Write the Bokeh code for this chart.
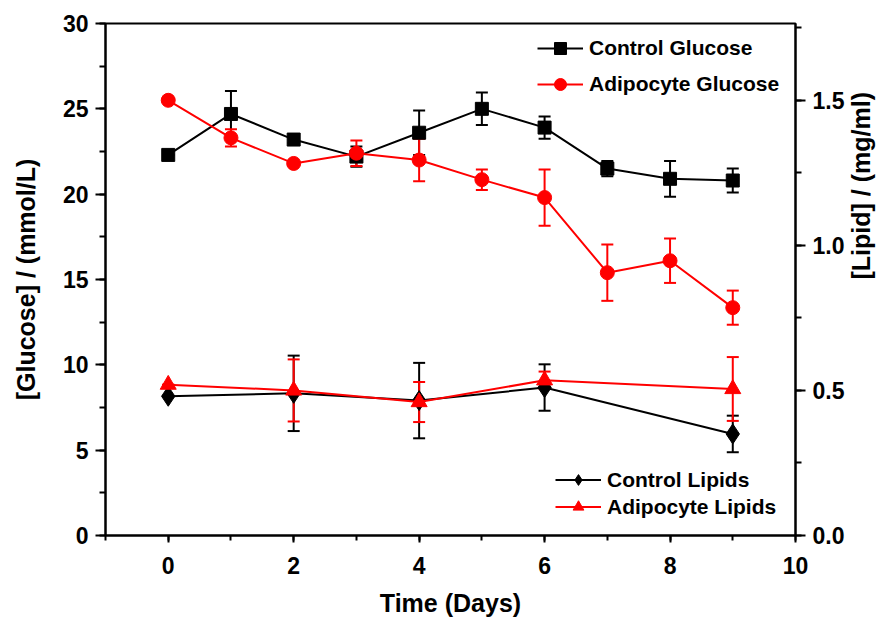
import math
from bokeh.plotting import figure
from bokeh.models import (ColumnDataSource, Whisker, TeeHead, LinearAxis, Range1d,
                          Legend, LegendItem, SingleIntervalTicker, NumeralTickFormatter)
from bokeh.embed import file_html
from bokeh.resources import INLINE

# ---------------- data ----------------
days = [0, 1, 2, 3, 4, 5, 6, 7, 8, 9]
control_glucose = [22.3, 24.7, 23.2, 22.2, 23.6, 25.0, 23.9, 21.5, 20.9, 20.8]
control_glucose_err = [0.0, 1.35, 0.2, 0.6, 1.3, 0.95, 0.65, 0.45, 1.05, 0.7]
adipocyte_glucose = [25.5, 23.3, 21.8, 22.4, 22.0, 20.85, 19.8, 15.4, 16.1, 13.35]
adipocyte_glucose_err = [0.0, 0.5, 0.1, 0.75, 1.25, 0.6, 1.65, 1.65, 1.3, 1.0]

lipid_days = [0, 2, 4, 6, 9]
control_lipids = [0.48, 0.49, 0.465, 0.51, 0.35]
control_lipids_err = [0.0, 0.13, 0.13, 0.08, 0.063]
adipocyte_lipids = [0.52, 0.50, 0.46, 0.535, 0.505]
adipocyte_lipids_err = [0.0, 0.107, 0.069, 0.03, 0.11]

glucose_range = (0, 30)
lipid_range = (0, 30 / 17)

FONT = "Liberation Sans"
RED = "#ff0000"
BLACK = "#000000"


def src(x, y, e):
    return ColumnDataSource(dict(x=x, y=y,
                                 upper=[a + b for a, b in zip(y, e)],
                                 lower=[a - b for a, b in zip(y, e)]))


p = figure(width=892, height=622, output_backend="svg", toolbar_location=None,
           x_range=Range1d(-1, 10), y_range=Range1d(*glucose_range),
           min_border_left=105, min_border_right=97, min_border_top=23, min_border_bottom=87)
p.extra_y_ranges = {"lipid": Range1d(*lipid_range)}
p.xgrid.visible = False
p.ygrid.visible = False
p.outline_line_color = "black"
p.outline_line_width = 2
p.background_fill_color = "white"
p.border_fill_color = "white"

right_axis = LinearAxis(y_range_name="lipid", axis_label="[Lipid] / (mg/ml)")
p.add_layout(right_axis, "right")

p.xaxis.axis_label = "Time (Days)"
p.yaxis[0].axis_label = "[Glucose] / (mmol/L)"
p.xaxis.ticker = SingleIntervalTicker(interval=2, num_minor_ticks=2)
p.yaxis[0].ticker = SingleIntervalTicker(interval=5, num_minor_ticks=2)
right_axis.ticker = SingleIntervalTicker(interval=0.5, num_minor_ticks=2)
right_axis.formatter = NumeralTickFormatter(format="0.0")

for ax in [p.xaxis[0], p.yaxis[0], right_axis]:
    ax.axis_line_width = 2
    ax.major_tick_line_width = 2
    ax.minor_tick_line_width = 2
    ax.major_tick_out = 10
    ax.major_tick_in = 0
    ax.minor_tick_out = 6
    ax.minor_tick_in = 0
    ax.major_label_text_font = FONT
    ax.major_label_text_font_style = "bold"
    ax.major_label_text_font_size = "23px"
    ax.major_label_text_color = "black"
    ax.axis_label_text_font = FONT
    ax.axis_label_text_font_style = "bold"
    ax.axis_label_text_font_size = "25px"
    ax.axis_label_text_color = "black"
    ax.major_label_standoff = 7

p.xaxis.major_tick_out = 7
p.xaxis.minor_tick_out = 5
p.xaxis.major_label_standoff = 14
p.xaxis.axis_label_standoff = 12
p.yaxis[0].axis_label_standoff = 20
right_axis.axis_label_standoff = 14
right_axis.axis_label_orientation = math.pi / 2

# Control glucose
s = src(days, control_glucose, control_glucose_err)
p.add_layout(Whisker(source=s, base="x", upper="upper", lower="lower", line_color=BLACK, line_width=2,
                     upper_head=TeeHead(size=12, line_color=BLACK, line_width=2),
                     lower_head=TeeHead(size=12, line_color=BLACK, line_width=2)))
l1 = p.line("x", "y", source=s, line_color=BLACK, line_width=2)
m1 = p.scatter("x", "y", source=s, marker="square", size=13, fill_color=BLACK, line_color=BLACK)

# Adipocyte glucose
s = src(days, adipocyte_glucose, adipocyte_glucose_err)
p.add_layout(Whisker(source=s, base="x", upper="upper", lower="lower", line_color=RED, line_width=2,
                     upper_head=TeeHead(size=12, line_color=RED, line_width=2),
                     lower_head=TeeHead(size=12, line_color=RED, line_width=2)))
l2 = p.line("x", "y", source=s, line_color=RED, line_width=2)
m2 = p.scatter("x", "y", source=s, marker="circle", size=14, fill_color=RED, line_color=RED)

# Control lipids
s = src(lipid_days, control_lipids, control_lipids_err)
p.add_layout(Whisker(source=s, base="x", upper="upper", lower="lower", line_color=BLACK, line_width=2,
                     y_range_name="lipid",
                     upper_head=TeeHead(size=12, line_color=BLACK, line_width=2),
                     lower_head=TeeHead(size=12, line_color=BLACK, line_width=2)))
l3 = p.line("x", "y", source=s, line_color=BLACK, line_width=2, y_range_name="lipid")
m3 = p.scatter("x", "y", source=s, marker="diamond", size=20, fill_color=BLACK, line_color=BLACK,
               y_range_name="lipid")

# Adipocyte lipids
s = src(lipid_days, adipocyte_lipids, adipocyte_lipids_err)
p.add_layout(Whisker(source=s, base="x", upper="upper", lower="lower", line_color=RED, line_width=2,
                     y_range_name="lipid",
                     upper_head=TeeHead(size=12, line_color=RED, line_width=2),
                     lower_head=TeeHead(size=12, line_color=RED, line_width=2)))
l4 = p.line("x", "y", source=s, line_color=RED, line_width=2, y_range_name="lipid")
m4 = p.scatter("x", "y", source=s, marker="triangle", size=16, fill_color=RED, line_color=RED,
               y_range_name="lipid")


def make_legend(items, loc, h, sp):
    return Legend(items=items, location=loc, padding=0, margin=0, spacing=sp,
                  glyph_width=46, glyph_height=h, label_height=h, label_standoff=6,
                  label_text_font=FONT, label_text_font_style="bold", label_text_font_size="21px",
                  label_text_color="black", background_fill_alpha=0, border_line_alpha=0)


top_legend = make_legend([LegendItem(label="Control Glucose", renderers=[l1, m1]),
                          LegendItem(label="Adipocyte Glucose", renderers=[l2, m2])],
                         (432, 436), 30, 6)
bottom_legend = make_legend([LegendItem(label="Control Lipids", renderers=[l3, m3]),
                             LegendItem(label="Adipocyte Lipids", renderers=[l4, m4])],
                            (450, 15), 27, 0)
p.add_layout(top_legend)
p.add_layout(bottom_legend)

open("out.html", "w").write(file_html(p, INLINE))
